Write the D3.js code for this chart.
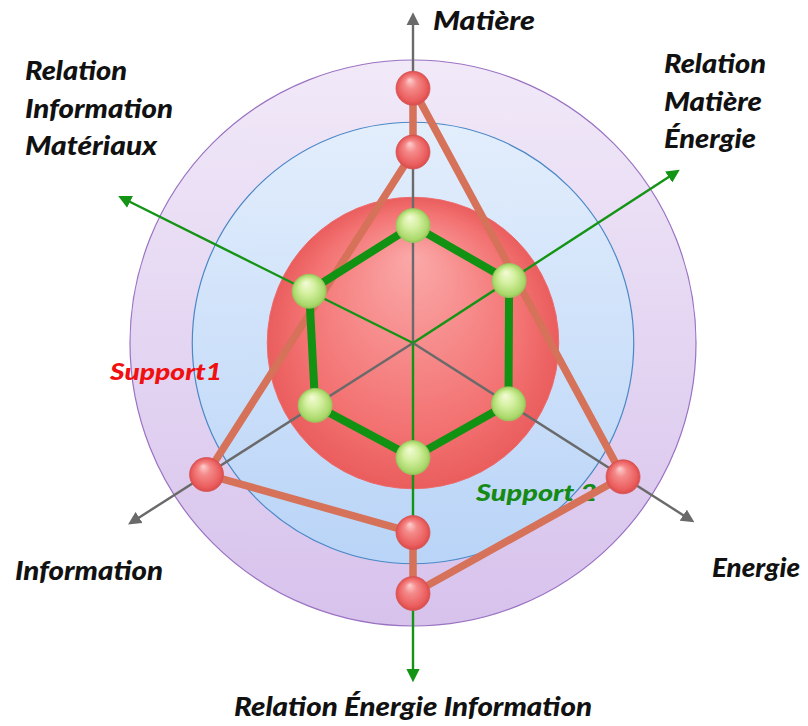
<!DOCTYPE html>
<html>
<head>
<meta charset="utf-8">
<script src="https://cdn.jsdelivr.net/npm/d3@7"></script>
<style>
  html, body { margin: 0; padding: 0; background: #fff; }
  svg text { font-family: Lato, 'Open Sans', sans-serif; font-weight: 900; font-style: italic; }
</style>
</head>
<body>
<div id="chart"></div>
<script>
// Axes of the diagram, clockwise from the top
const axes = ['Matière', 'Relation Matière Énergie', 'Energie', 'Relation Énergie Information', 'Information', 'Relation Information Matériaux'];
const axisKind = ['main', 'relation', 'main', 'relation', 'main', 'relation'];
// concentric levels (outer purple, blue, inner red sphere)
const rings = [10, 7.8, 5.15];
// Support1 path: pairs of axis + value, in drawing order
const support1Axes = ['Matière', 'Energie', 'Relation Énergie Information', 'Relation Énergie Information', 'Information', 'Matière'];
const support1Values = [9.0, 8.8, 8.85, 6.7, 8.65, 6.75];
// Support 2: one value per axis
const support2Values = [4.15, 4.05, 4.0, 4.05, 4.1, 4.1];

// layout
const width = 808, height = 726;
const cx = 413, cy = 343;
const axisAngle = [90, 33, -32.5, -90, -147.5, 153.5];   // degrees, counter-clockwise from east
const axisLength = [11.55, 11.1, 11.65, 11.85, 11.8, 11.5];

const r = d3.scaleLinear().domain([0, 10]).range([0, 283]);
const angleOf = d3.scaleOrdinal().domain(axes).range(axisAngle.map(a => a * Math.PI / 180));
const pt = (axis, v) => {
  const a = angleOf(axis);
  return [cx + r(v) * Math.cos(a), cy - r(v) * Math.sin(a)];
};

const svg = d3.select('#chart').append('svg')
  .attr('width', width)
  .attr('height', height);

const defs = svg.append('defs');

function linGrad(id, top, bottom) {
  const g = defs.append('linearGradient').attr('id', id)
    .attr('x1', 0).attr('y1', 0).attr('x2', 0).attr('y2', 1);
  g.append('stop').attr('offset', '0%').attr('stop-color', top);
  g.append('stop').attr('offset', '100%').attr('stop-color', bottom);
}
linGrad('purple', '#f1e9f8', '#d7c2ec');
linGrad('blue', '#e3eefc', '#b9d4f7');

function radGrad(id, stops, fx, fy) {
  const g = defs.append('radialGradient').attr('id', id)
    .attr('cx', '50%').attr('cy', '50%').attr('r', '50%')
    .attr('fx', fx).attr('fy', fy);
  stops.forEach(([o, c]) => g.append('stop').attr('offset', o).attr('stop-color', c));
}
radGrad('sphere', [['0%', '#fba9a9'], ['75%', '#f37272'], ['100%', '#ea5d5d']], '50%', '20%');
radGrad('pink', [['0%', '#fdd0d0'], ['35%', '#f58a8a'], ['85%', '#ea5c5c'], ['100%', '#d84c4c']], '40%', '25%');
radGrad('lime', [['0%', '#f4fbd8'], ['45%', '#d4f0a0'], ['90%', '#a9d86a'], ['100%', '#93c655']], '40%', '25%');

function marker(id, color) {
  defs.append('marker').attr('id', id)
    .attr('viewBox', '0 0 10 10')
    .attr('refX', 7).attr('refY', 5)
    .attr('markerWidth', 5.5).attr('markerHeight', 5.5)
    .attr('orient', 'auto')
    .append('path').attr('d', 'M0,0 L10,5 L0,10 Z').attr('fill', color);
}
marker('arrow-gray', '#6a6a6a');
marker('arrow-green', '#149414');

// Rings
const ringStyle = [
  {fill: 'url(#purple)', stroke: '#9a72c2', sw: 1.2},
  {fill: 'url(#blue)', stroke: '#4b88c6', sw: 1.2},
  {fill: 'url(#sphere)', stroke: '#ee6a6a', sw: 1}
];
svg.append('g').selectAll('circle')
  .data(rings)
  .enter()
  .append('circle')
  .attr('cx', cx)
  .attr('cy', cy)
  .attr('r', d => r(d))
  .attr('fill', (d, i) => ringStyle[i].fill)
  .attr('stroke', (d, i) => ringStyle[i].stroke)
  .attr('stroke-width', (d, i) => ringStyle[i].sw);

// Axes
svg.append('g').selectAll('line')
  .data(axes)
  .enter()
  .append('line')
  .attr('x1', cx)
  .attr('y1', cy)
  .attr('x2', (d, i) => pt(d, axisLength[i])[0])
  .attr('y2', (d, i) => pt(d, axisLength[i])[1])
  .attr('stroke', (d, i) => axisKind[i] === 'main' ? '#6a6a6a' : '#149414')
  .attr('stroke-width', 2.4)
  .attr('marker-end', (d, i) => axisKind[i] === 'main' ? 'url(#arrow-gray)' : 'url(#arrow-green)');

// Series labels
svg.append('text')
  .attr('x', 110).attr('y', 380)
  .attr('font-size', 22)
  .attr('fill', '#f01010')
  .attr('textLength', 112).attr('lengthAdjust', 'spacingAndGlyphs')
  .text('Support1');
svg.append('text')
  .attr('x', 476).attr('y', 501)
  .attr('font-size', 22)
  .attr('fill', '#168a16')
  .attr('textLength', 121).attr('lengthAdjust', 'spacingAndGlyphs')
  .text('Support 2');

// Support1 path
const s1 = support1Axes.map((a, i) => pt(a, support1Values[i]));
svg.append('path')
  .attr('d', d3.line().curve(d3.curveLinearClosed)(s1))
  .attr('fill', 'none')
  .attr('stroke', '#d6725a')
  .attr('stroke-width', 7.5)
  .attr('stroke-linejoin', 'round');

// Support 2 polygon
const s2 = axes.map((a, i) => pt(a, support2Values[i]));
svg.append('path')
  .attr('d', d3.line().curve(d3.curveLinearClosed)(s2))
  .attr('fill', 'none')
  .attr('stroke', '#129212')
  .attr('stroke-width', 8)
  .attr('stroke-linejoin', 'round');

// Dots
svg.append('g').selectAll('circle')
  .data(s1)
  .enter()
  .append('circle')
  .attr('cx', d => d[0])
  .attr('cy', d => d[1])
  .attr('r', 17)
  .attr('fill', 'url(#pink)')
  .attr('stroke', '#d65656')
  .attr('stroke-width', 0.8);

svg.append('g').selectAll('circle')
  .data(s2)
  .enter()
  .append('circle')
  .attr('cx', d => d[0])
  .attr('cy', d => d[1])
  .attr('r', 17)
  .attr('fill', 'url(#lime)')
  .attr('stroke', '#9cc964')
  .attr('stroke-width', 0.8);

// Axis labels (w = rendered width of each line)
const labels = [
  {lines: ['Matière'], w: [102], x: 433, y: 30},
  {lines: ['Relation', 'Matière', 'Énergie'], w: [102, 98, 92], x: 664, y: 73},
  {lines: ['Energie'], w: [88], x: 712, y: 577},
  {lines: ['Relation Énergie Information'], w: [358], x: 234, y: 716},
  {lines: ['Information'], w: [148], x: 15, y: 580},
  {lines: ['Relation', 'Information', 'Matériaux'], w: [102, 148, 132], x: 25, y: 80}
];
labels.forEach(l => {
  const t = svg.append('text')
    .attr('x', l.x).attr('y', l.y)
    .attr('font-size', 26)
    .attr('fill', '#111');
  l.lines.forEach((s, i) => {
    t.append('tspan')
      .attr('x', l.x)
      .attr('dy', i === 0 ? 0 : 37.5)
      .attr('textLength', l.w[i])
      .attr('lengthAdjust', 'spacingAndGlyphs')
      .text(s);
  });
});
</script>
</body>
</html>
